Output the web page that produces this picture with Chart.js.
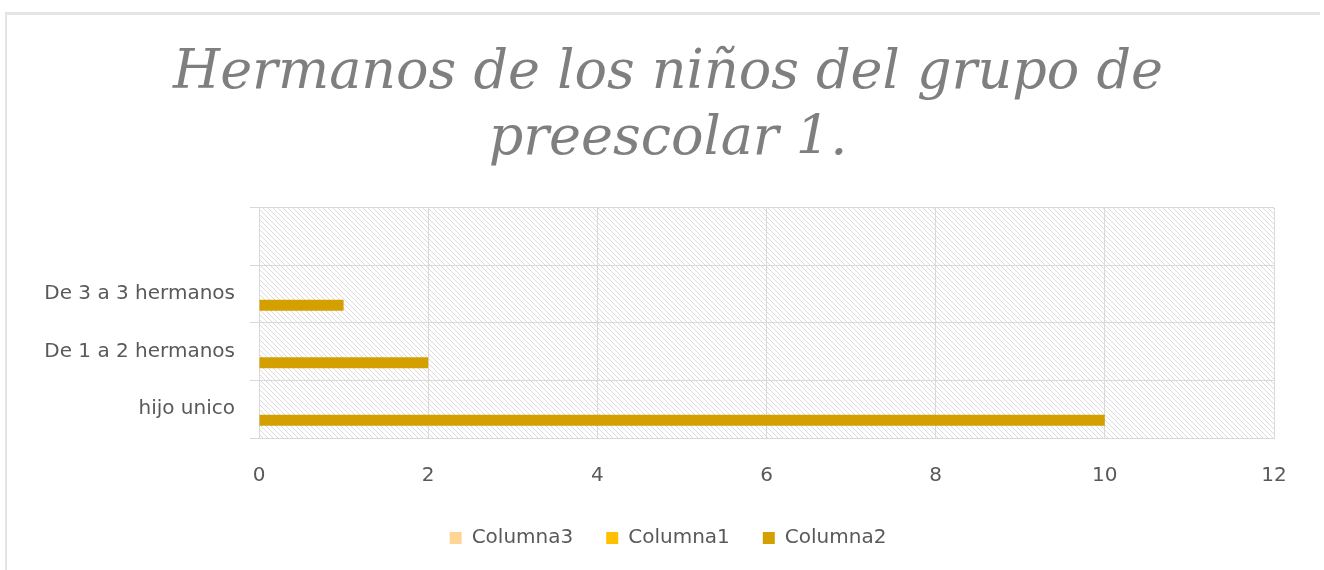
<!DOCTYPE html>
<html lang="es">
<head>
  <meta charset="UTF-8">
  <title>Hermanos de los niños</title>
  <script src="https://cdn.jsdelivr.net/npm/chart.js"></script>
  <style>
    body { margin: 0; background: #fff; overflow: hidden; }
    .frame {
      position: absolute; left: 5px; top: 12px; width: 1313px; height: 570px;
      border-top: 3px solid #e4e4e4; border-left: 2px solid #e4e4e4;
    }
    .chart-box { position: absolute; left: 0; top: 0; width: 1324px; height: 570px; }
  </style>
</head>
<body>
  <div class="frame"></div>
  <div class="chart-box">
    <canvas id="barChart"></canvas>
  </div>

  <script>
    // data (bottom to top)
    const categories = ['hijo unico', 'De 1 a 2 hermanos', 'De 3 a 3 hermanos', ''];
    const columna3 = [null, null, null, null];
    const columna1 = [null, null, null, null];
    const columna2 = [10, 2, 1, null];
    const xTicks = [0, 2, 4, 6, 8, 10, 12];

    const labelFont = { family: 'DejaVu Sans', size: 20 };
    const gridColor = '#d9d9d9';

    // diagonal hatch for the plot area
    function makeHatch() {
      const c = document.createElement('canvas');
      c.width = 5; c.height = 5;
      const g = c.getContext('2d');
      g.fillStyle = '#fff';
      g.fillRect(0, 0, 5, 5);
      g.strokeStyle = '#dcdcdc';
      g.lineWidth = 1;
      g.beginPath();
      g.moveTo(-1, -1); g.lineTo(6, 6);
      g.moveTo(-1, 4); g.lineTo(1, 6);
      g.moveTo(4, -1); g.lineTo(6, 1);
      g.stroke();
      return g.createPattern(c, 'repeat');
    }

    const hatchBg = {
      id: 'hatchBg',
      afterLayout(chart) {
        // title and legend sit a bit right of the canvas centre
        for (const box of [chart.titleBlock, chart.legend]) {
          if (box) { box.left += 31; box.right += 31; }
        }
      },
      beforeDraw(chart) {
        const a = chart.chartArea;
        const ctx = chart.ctx;
        ctx.save();
        ctx.fillStyle = makeHatch();
        ctx.fillRect(a.left, a.top, a.right - a.left, a.bottom - a.top);
        ctx.restore();
      }
    };

    const ctx = document.getElementById('barChart').getContext('2d');
    const chart = new Chart(ctx, {
      type: 'bar',
      data: {
        labels: categories,
        datasets: [
          { label: 'Columna3', data: columna3, backgroundColor: '#ffd596' },
          { label: 'Columna1', data: columna1, backgroundColor: '#ffc000' },
          { label: 'Columna2', data: columna2, backgroundColor: '#d4a000' }
        ]
      },
      options: {
        indexAxis: 'y',
        responsive: true,
        maintainAspectRatio: false,
        animation: false,
        categoryPercentage: 0.574,
        barPercentage: 1,
        layout: { padding: { left: 0, right: 50, top: 0, bottom: 12 } },
        plugins: {
          title: {
            display: true,
            text: ['Hermanos de los niños del grupo de', 'preescolar 1.'],
            color: '#7f7f7f',
            font: { family: 'DejaVu Serif', size: 54, style: 'italic', weight: 'normal', lineHeight: 1.24 },
            padding: { top: 40, bottom: 34 }
          },
          legend: {
            position: 'bottom',
            labels: {
              color: '#595959',
              font: labelFont,
              boxWidth: 12,
              boxHeight: 12,
              padding: 33
            }
          },
          tooltip: { enabled: false }
        },
        scales: {
          x: {
            min: 0,
            max: 12,
            afterBuildTicks: s => { s.ticks = xTicks.map(v => ({ value: v })); },
            afterFit: s => { s.height -= 19; },
            ticks: { color: '#595959', font: labelFont, padding: 26 },
            grid: { color: gridColor, drawTicks: false },
            border: { color: gridColor }
          },
          y: {
            reverse: true,
            afterFit: s => { s.width = 259; },
            ticks: { color: '#595959', font: labelFont, padding: 15 },
            grid: { color: gridColor, tickLength: 9, offset: true },
            border: { color: gridColor }
          }
        }
      },
      plugins: [hatchBg]
    });
  </script>
</body>
</html>
